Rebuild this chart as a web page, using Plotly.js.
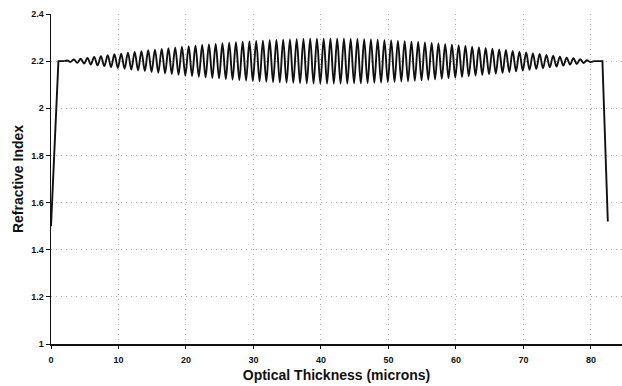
<!DOCTYPE html>
<html>
<head>
<meta charset="utf-8">
<script src="https://cdn.plot.ly/plotly-3.0.1.min.js"></script>
<style>
  html, body { margin: 0; padding: 0; background: #fff; }
  #chart { width: 622px; height: 386px; }
</style>
</head>
<body>
<div id="chart"></div>
<script>
// Rising edge (substrate side) and falling edge (exit side)
const edgeLeftX = [0, 1.1, 2.0];
const edgeLeftY = [1.5, 2.2, 2.2];
const edgeRightX = [80.4, 81.7, 82.5];
const edgeRightY = [2.2, 2.2, 1.52];

// Oscillation maxima (optical thickness, refractive index)
const peakX = [2.4,3.4,4.4,5.4,6.4,7.4,8.4,9.4,10.4,11.4,12.4,13.4,14.4,15.4,16.4,17.4,18.4,19.4,20.4,21.4,
  22.4,23.4,24.4,25.4,26.4,27.4,28.4,29.4,30.4,31.4,32.4,33.4,34.4,35.4,36.4,37.4,38.4,39.4,40.4,41.4,
  42.4,43.4,44.4,45.4,46.4,47.4,48.4,49.4,50.4,51.4,52.4,53.4,54.4,55.4,56.4,57.4,58.4,59.4,60.4,61.4,
  62.4,63.4,64.4,65.4,66.4,67.4,68.4,69.4,70.4,71.4,72.4,73.4,74.4,75.4,76.4,77.4,78.4,79.4];
const peakN = [2.203,2.207,2.210,2.214,2.218,2.221,2.225,2.229,2.232,2.236,2.239,2.242,2.246,2.249,2.252,2.255,2.258,2.261,2.263,2.266,
  2.269,2.271,2.273,2.276,2.278,2.280,2.282,2.284,2.286,2.287,2.289,2.290,2.291,2.292,2.293,2.294,2.295,2.295,2.295,2.295,
  2.295,2.295,2.294,2.294,2.293,2.292,2.291,2.289,2.288,2.286,2.285,2.283,2.281,2.279,2.277,2.275,2.272,2.270,2.267,2.264,
  2.261,2.259,2.256,2.253,2.250,2.247,2.243,2.240,2.237,2.233,2.230,2.226,2.223,2.219,2.215,2.212,2.208,2.204];

// Oscillation minima
const troughX = [2.9,3.9,4.9,5.9,6.9,7.9,8.9,9.9,10.9,11.9,12.9,13.9,14.9,15.9,16.9,17.9,18.9,19.9,20.9,21.9,
  22.9,23.9,24.9,25.9,26.9,27.9,28.9,29.9,30.9,31.9,32.9,33.9,34.9,35.9,36.9,37.9,38.9,39.9,40.9,41.9,
  42.9,43.9,44.9,45.9,46.9,47.9,48.9,49.9,50.9,51.9,52.9,53.9,54.9,55.9,56.9,57.9,58.9,59.9,60.9,61.9,
  62.9,63.9,64.9,65.9,66.9,67.9,68.9,69.9,70.9,71.9,72.9,73.9,74.9,75.9,76.9,77.9,78.9,79.9];
const troughN = [2.197,2.193,2.190,2.186,2.182,2.179,2.175,2.171,2.168,2.164,2.161,2.158,2.154,2.151,2.148,2.145,2.142,2.139,2.137,2.134,
  2.131,2.129,2.127,2.124,2.122,2.120,2.118,2.116,2.114,2.113,2.111,2.110,2.109,2.108,2.107,2.106,2.105,2.105,2.105,2.105,
  2.105,2.105,2.106,2.106,2.107,2.108,2.109,2.111,2.112,2.114,2.115,2.117,2.119,2.121,2.123,2.125,2.128,2.130,2.133,2.136,
  2.139,2.141,2.144,2.147,2.150,2.153,2.157,2.160,2.163,2.167,2.170,2.174,2.177,2.181,2.185,2.188,2.192,2.196];

const xTickVals = [0, 10, 20, 30, 40, 50, 60, 70, 80];
const yTickVals = [1, 1.2, 1.4, 1.6, 1.8, 2, 2.2, 2.4];
const yTickText = ['1', '1.2', '1.4', '1.6', '1.8', '2', '2.2', '2.4'];

// Interleave maxima and minima into one oscillating profile
const oscX = [edgeLeftX[edgeLeftX.length - 1]];
const oscY = [edgeLeftY[edgeLeftY.length - 1]];
for (let i = 0; i < peakX.length; i++) {
  oscX.push(peakX[i], troughX[i]);
  oscY.push(peakN[i], troughN[i]);
}
oscX.push(edgeRightX[0]);
oscY.push(edgeRightY[0]);

const lineStyle = { color: '#111', width: 1.9 };
const traces = [
  { x: edgeLeftX, y: edgeLeftY, mode: 'lines', line: lineStyle, hoverinfo: 'skip' },
  { x: oscX, y: oscY, mode: 'lines', line: Object.assign({ shape: 'spline', smoothing: 1 }, lineStyle), hoverinfo: 'skip' },
  { x: edgeRightX, y: edgeRightY, mode: 'lines', line: lineStyle, hoverinfo: 'skip' }
];

const fam = 'Liberation Sans, Arial, sans-serif';
const tickFont = { family: fam, size: 9, color: '#111', weight: 'bold' };
const layout = {
  width: 622, height: 386,
  margin: { l: 51, r: 0, t: 14, b: 42 },
  paper_bgcolor: '#fff', plot_bgcolor: '#fff',
  showlegend: false,
  font: { family: fam, color: '#111' },
  xaxis: {
    range: [0, 84.6], tickvals: xTickVals, ticktext: xTickVals.map(String),
    showgrid: true, gridcolor: '#aaa', griddash: '1px,4px', gridwidth: 1,
    zeroline: false, showline: true, linecolor: '#111', linewidth: 1.5,
    ticks: 'outside', ticklen: 3, tickcolor: '#111',
    ticklabelstandoff: 4,
    tickfont: tickFont,
    title: { text: '<b>Optical Thickness (microns)</b>', font: { size: 14, family: fam, color: '#111' }, standoff: 6 }
  },
  yaxis: {
    range: [1, 2.4], tickvals: yTickVals, ticktext: yTickText,
    showgrid: true, gridcolor: '#aaa', griddash: '1px,4px', gridwidth: 1,
    zeroline: false, showline: true, linecolor: '#111', linewidth: 1.5,
    ticks: 'outside', ticklen: 4, tickcolor: '#111',
    tickfont: tickFont,
    title: { text: '<b>Refractive Index</b>', font: { size: 14, family: fam, color: '#111' }, standoff: 4 }
  }
};

Plotly.newPlot('chart', traces, layout, { staticPlot: true, displayModeBar: false });
</script>
</body>
</html>
